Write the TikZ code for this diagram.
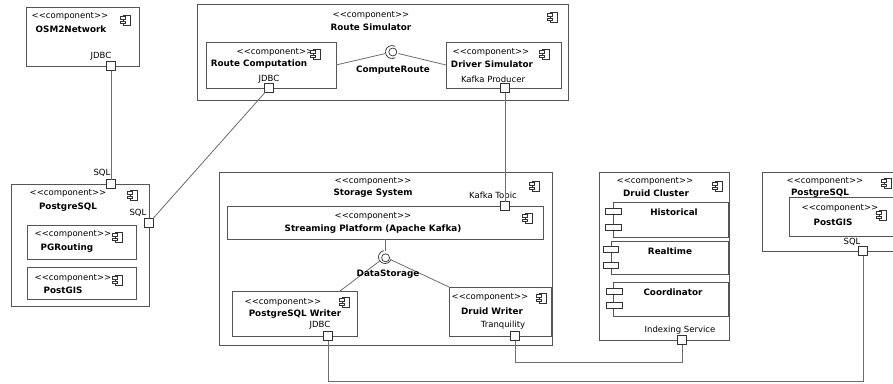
\documentclass[tikz,border=0pt]{standalone}
\usepackage{fontspec}
\setmainfont{DejaVu Sans}
\usetikzlibrary{fit}
\definecolor{boxc}{HTML}{555555}
\definecolor{linec}{HTML}{6E6E6E}
\definecolor{portc}{HTML}{333333}
\definecolor{iconc}{HTML}{333333}
\begin{document}
\begin{tikzpicture}[x=1pt,y=-1pt,
  box/.style={draw=boxc, line width=0.8pt, fill=white, inner sep=0pt, outer sep=0pt},
  port/.style={draw=portc, fill=white, line width=0.8pt, minimum size=9pt, inner sep=0pt, outer sep=0pt},
  conn/.style={draw=linec, line width=0.8pt},
  st/.style={font=\fontsize{8.5}{10}\selectfont, inner sep=0pt},
  nm/.style={font=\fontsize{8.8}{10}\selectfont\bfseries, inner sep=0pt},
  lb/.style={font=\fontsize{8.5}{10}\selectfont, inner sep=0pt},
  iface/.style={circle, minimum size=13pt, inner sep=0pt, outer sep=0pt},
  sub/.style={draw=iconc, line width=0.7pt, fill=white},
  cicon/.pic={
    \draw[iconc, line width=0.6pt, fill=white] (-3,-5) rectangle (4,5);
    \draw[iconc, line width=0.6pt, fill=white] (-5.5,-3.3) rectangle (-0.5,-1.2);
    \draw[iconc, line width=0.6pt, fill=white] (-5.5,1.2) rectangle (-0.5,3.3);
  }
]
\useasboundingbox (0,0) rectangle (893,383);
\clip (0,0) rectangle (893,383);
\fill[white] (0,0) rectangle (893,383);

% ---------- OSM2Network
\node[box, fit={(26,7)(139,66)}] (osm) {};
\node[st] (osmS) at (70,16) {<{}<component>{}>};
\node[nm] (osmN) at (71,29) {OSM2Network};
\pic at (126,20) {cicon};
\node[lb] (osmL) at (101,56) {JDBC};

% ---------- Route Simulator
\node[box, fit={(197,4)(568,100)}] (rs) {};
\node[st] (rsS) at (371,15) {<{}<component>{}>};
\node[nm] (rsN) at (371,27) {Route Simulator};
\pic at (553,17) {cicon};

\node[box, fit={(206,42)(336,88)}] (rc) {};
\node[st] (rcS) at (275,52) {<{}<component>{}>};
\node[nm] (rcN) at (259,64) {Route Computation};
\pic at (316,54) {cicon};
\node[lb] (rcL) at (269,79) {JDBC};

\node[box, fit={(446,42)(561,88)}] (ds) {};
\node[st] (dsS) at (491,52) {<{}<component>{}>};
\node[nm] (dsN) at (492,64) {Driver Simulator};
\pic at (545,54) {cicon};
\node[lb] (dsL) at (493,79) {Kafka Producer};

\node[iface] (cr) at (392,52) {};
\draw[portc, line width=0.7pt] (cr.center) ++(0.8,0) circle (4);
\draw[portc, line width=0.7pt] (cr.center) ++(60:6.5) arc (60:300:6.5);
\node[nm] (crL) at (393,70) {ComputeRoute};

% ---------- PostgreSQL (left)
\node[box, fit={(11,184)(149,306)}] (pg) {};
\node[st] (pgS) at (68,193) {<{}<component>{}>};
\node[nm] (pgN) at (68,207) {PostgreSQL};
\pic at (133,195) {cicon};
\node[lb] (pgL1) at (102,173) {SQL};
\node[lb] (pgL2) at (138,213) {SQL};

\node[box, fit={(27,225)(136,259)}] (pgr) {};
\node[st] (pgrS) at (73,234) {<{}<component>{}>};
\node[nm] (pgrN) at (67,248) {PGRouting};
\pic at (118,237) {cicon};

\node[box, fit={(27,267)(136,299)}] (pgis) {};
\node[st] (pgisS) at (73,278) {<{}<component>{}>};
\node[nm] (pgisN) at (63,290) {PostGIS};
\pic at (118,280) {cicon};

% ---------- Storage System
\node[box, fit={(219,172)(552,345)}] (ss) {};
\node[st] (ssS) at (373,181) {<{}<component>{}>};
\node[nm] (ssN) at (373,193) {Storage System};
\pic at (535,186) {cicon};
\node[lb] (ssL) at (493,196) {Kafka Topic};

\node[box, fit={(227,206)(543,239)}] (sp) {};
\node[st] (spS) at (373,216) {<{}<component>{}>};
\node[nm] (spN) at (373,229) {Streaming Platform (Apache Kafka)};
\pic at (528,218) {cicon};

\node[iface] (dsI) at (385,257) {};
\draw[portc, line width=0.7pt] (dsI.center) ++(0.6,0.8) circle (4);
\draw[portc, line width=0.7pt] (dsI.center) ++(20:6.5) arc (20:260:6.5);

\node[box, fit={(232,291)(357,336)}] (pw) {};
\node[st] (pwS) at (283,302) {<{}<component>{}>};
\node[nm] (pwN) at (295,314) {PostgreSQL Writer};
\pic at (345,302) {cicon};
\node[lb] (pwL) at (320,325) {JDBC};

\node[box, fit={(449,287)(551,336)}] (dw) {};
\node[st] (dwS) at (490,297) {<{}<component>{}>};
\node[nm] (dwN) at (492,311) {Druid Writer};
\pic at (542,298) {cicon};
\node[lb] (dwL) at (503,325) {Tranquility};

% ---------- Druid Cluster
\node[box, fit={(599,172)(729,340)}] (dc) {};
\node[st] (dcS) at (655,181) {<{}<component>{}>};
\node[nm] (dcN) at (656,193) {Druid Cluster};
\pic at (718,186) {cicon};
\node[lb] (dcL) at (680,330) {Indexing Service};

\node[box, fit={(613,202)(728,237)}] (hist) {};
\node[nm] (histN) at (674,212) {Historical};
\draw[sub] (605,208) rectangle (621,214);
\draw[sub] (605,224) rectangle (621,230);

\node[box, fit={(611,241)(728,274)}] (rt) {};
\node[nm] (rtN) at (670,251) {Realtime};
\draw[sub] (603,246) rectangle (618,252);
\draw[sub] (603,262) rectangle (618,268);

\node[box, fit={(613,282)(728,316)}] (co) {};
\node[nm] (coN) at (673,292) {Coordinator};
\draw[sub] (606,288) rectangle (622,294);
\draw[sub] (606,302) rectangle (622,308);

% ---------- PostgreSQL (right)
\node[box, fit={(762,172)(905,251)}] (pg2) {};
\node[st] (pg2S) at (825,181) {<{}<component>{}>};
\node[nm] (pg2N) at (820,193) {PostgreSQL};
\pic at (887,183) {cicon};

\node[box, fit={(789,197)(910,236)}] (pg2gis) {};
\node[st] (pg2gisS) at (840,208) {<{}<component>{}>};
\node[nm] (pg2gisN) at (833,222) {PostGIS};
\pic at (882,215) {cicon};
\node[lb] (pg2L) at (852,242) {SQL};

% ---------- ports
\node[port] (osmP) at (111,66) {};
\node[port] (pgTop) at (111,184) {};
\node[port] (pgRight) at (149,223) {};
\node[port] (rcP) at (269,88) {};
\node[port] (dsP) at (505,88) {};
\node[port] (ktP) at (505,206) {};
\node[port] (pwP) at (328,336) {};
\node[port] (dwP) at (515,336) {};
\node[port] (idxP) at (682,340) {};
\node[port] (pg2P) at (863,251) {};

% ---------- connectors
\coordinate (pwIn) at (340,291);
\coordinate (b1) at (328,381);
\coordinate (b2) at (515,362);
\draw[conn] (osmP) -- (pgTop);
\draw[conn] (rcP) -- (pgRight);
\draw[conn] (dsP) -- (ktP);
\draw[conn] (rc.east) -- (cr);
\draw[conn] (cr) -- (ds.west);
\draw[conn] (sp.south) -- (dsI);
\draw[conn] (dsI) -- (pwIn);
\draw[conn] (dsI) -- (dw.north west);
\draw[conn] (pwP) -- (b1) -| (pg2P);
\draw[conn] (dwP) -- (b2) -| (idxP);
\node[nm] (dsIL) at (388,274) {DataStorage};
\end{tikzpicture}
\end{document}
